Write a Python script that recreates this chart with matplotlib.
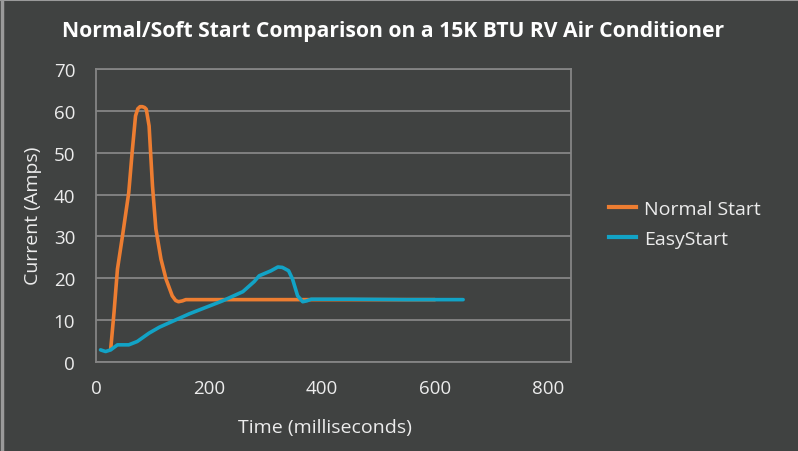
import matplotlib
matplotlib.use("Agg")
import matplotlib.pyplot as plt
from matplotlib.lines import Line2D

# Data
normal_t = [26, 32, 38, 47, 58, 64, 70, 74, 78, 82, 86, 89, 94, 100, 106, 115, 124, 135, 141, 146, 153, 159, 200, 300, 400, 500, 600]
normal_a = [3.0, 12.0, 22.2, 30.2, 40.5, 50.1, 58.8, 60.5, 61.0, 61.0, 60.8, 60.4, 56.4, 42.1, 31.8, 24.6, 19.8, 15.8, 14.7, 14.4, 14.6, 14.9, 14.9, 14.9, 14.9, 14.9, 14.9]

easy_t = [8, 17, 26, 38, 58, 73, 94, 112, 165, 224, 260, 280, 289, 310, 322, 330, 341, 348, 357, 366, 373, 381, 450, 550, 650]
easy_a = [2.9, 2.5, 2.9, 4.1, 4.1, 4.9, 6.9, 8.3, 11.5, 14.6, 16.8, 19.2, 20.6, 21.8, 22.7, 22.6, 21.8, 19.8, 15.8, 14.4, 14.6, 15.0, 15.0, 14.9, 14.9]

series_names = ["Normal Start", "EasyStart"]
x_ticks = [0, 200, 400, 600, 800]
y_ticks = [0, 10, 20, 30, 40, 50, 60, 70]

BG = "#404241"
GRID = "#858585"
TXT = "#ececec"
ORANGE = "#ED7D31"
BLUE = "#12A3C6"

plt.rcParams['font.family'] = ['Open Sans', 'DejaVu Sans']

fig = plt.figure(figsize=(7.98, 4.52), dpi=100, facecolor=BG)
ax = fig.add_axes([96/798, 1-363/452, (571-96)/798, (363-70)/452])
ax.set_facecolor(BG)

ax.plot(normal_t, normal_a, color=ORANGE, lw=2.6, solid_joinstyle='round', solid_capstyle='round', zorder=3)
ax.plot(easy_t, easy_a, color=BLUE, lw=2.6, solid_joinstyle='round', solid_capstyle='round', zorder=4)

ax.set_xlim(0, 841)
ax.set_ylim(0, 70)
ax.set_xticks(x_ticks)
ax.set_yticks(y_ticks)
ax.grid(axis='y', color=GRID, lw=1.3)
ax.set_axisbelow(True)
for s in ax.spines.values():
    s.set_color(GRID)
    s.set_linewidth(1.3)
ax.tick_params(colors=TXT, labelsize=13.5, length=0)
ax.tick_params(axis='y', pad=15)
ax.tick_params(axis='x', pad=12)
for lab in ax.get_xticklabels() + ax.get_yticklabels():
    lab.set_color(TXT)

fig.text(33/798, 1-216/452, "Current (Amps)", rotation=90, color=TXT, fontsize=14, ha='center', va='center')
fig.text(325/798, 1-428/452, "Time (milliseconds)", color=TXT, fontsize=14, ha='center', va='center')
fig.text(393/798, 1-31/452, "Normal/Soft Start Comparison on a 15K BTU RV Air Conditioner",
         color="#ffffff", fontsize=15.2, fontweight='bold', ha='center', va='center')

handles = [Line2D([0], [0], color=ORANGE, lw=3), Line2D([0], [0], color=BLUE, lw=3)]
leg = fig.legend(handles, series_names, loc='center left', bbox_to_anchor=(591/798, 1-225/452),
                 frameon=False, fontsize=14, handlelength=1.4, handletextpad=0.45, labelspacing=0.6)
for t in leg.get_texts():
    t.set_color(TXT)

# light border at left/top edge
fig.add_artist(Line2D([0.002, 0.002], [0, 1], transform=fig.transFigure, color="#9a9a9a", lw=2.5))
fig.add_artist(Line2D([0, 1], [0.998, 0.998], transform=fig.transFigure, color="#9a9a9a", lw=1.5))

fig.savefig("out.png", dpi=100, facecolor=BG)
